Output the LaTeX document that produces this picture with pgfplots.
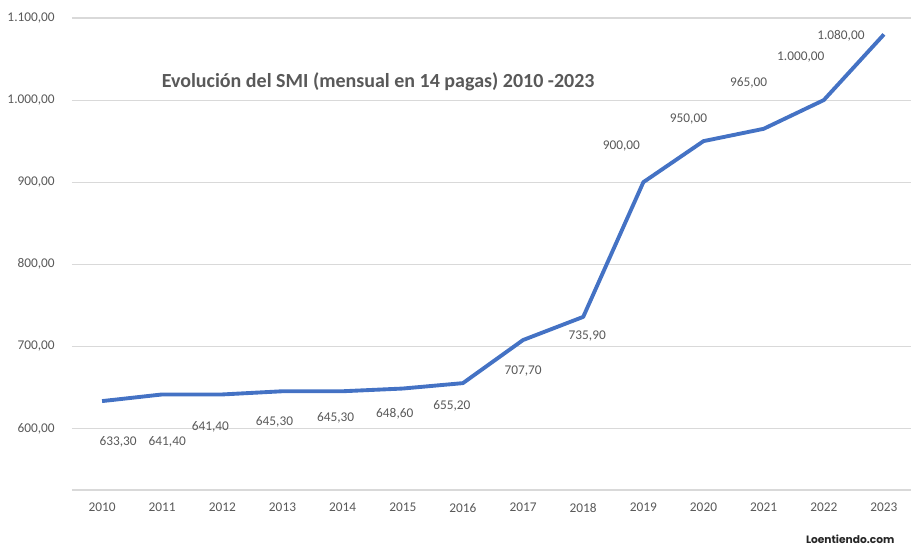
\documentclass[border=0pt]{standalone}
\usepackage{fontspec}
\setmainfont{Carlito}
\newfontfamily\logofont{Poppins}
\usepackage{pgfplots}
\pgfplotsset{compat=1.18}
\definecolor{linea}{HTML}{4472C4}
\definecolor{rejilla}{HTML}{D9D9D9}
\definecolor{texto}{HTML}{595959}

% anio (indice), SMI, desplazamiento de la etiqueta en px (dy hacia arriba)
\pgfplotstableread{
x y dx dy
0 633.3 16 -41
1 641.4 5 -47
2 641.4 -12 -32
3 645.3 -8 -31
4 645.3 -7 -27
5 648.6 -8 -25
6 655.2 -11 -23
7 707.7 0 -31
8 735.9 4 -19
9 900.0 -22 36
10 950.0 -15 22
11 965.0 -15 46
12 1000.0 -23 43
13 1080.0 -43 -1
}\smi

\begin{document}
\begin{tikzpicture}
\path[use as bounding box] (-54pt,-42pt) rectangle (629.25pt,367.5pt);
\begin{axis}[
    scale only axis,
    width=631.5pt,
    height=354pt,
    xmin=-0.5, xmax=13.5,
    ymin=525, ymax=1100,
    xtick={0,...,13},
    xticklabels={2010,2011,2012,2013,2014,2015,2016,2017,2018,2019,2020,2021,2022,2023},
    ytick={600,700,...,1100},
    axis x line*=bottom,
    axis y line*=left,
    x axis line style={draw=rejilla, line width=0.8pt, -},
    y axis line style={draw=none},
    major tick length=0pt,
    ymajorgrids,
    grid style={draw=rejilla, line width=0.8pt},
    /pgf/number format/.cd, fixed, fixed zerofill, precision=2, use comma, 1000 sep={.}, assume math mode=true,
    /pgfplots/.cd,
    ticklabel style={font=\fontsize{10}{12}\selectfont, text=texto, inner sep=0pt},
    yticklabel style={anchor=east, xshift=-12.75pt},
    xticklabel style={anchor=north, yshift=-9.6pt},
    clip=false,
]
\addplot[color=linea, line width=2.9pt, line join=round, no markers,
    nodes near coords,
    visualization depends on={\thisrow{dx} \as \dx},
    visualization depends on={\thisrow{dy} \as \dy},
    every node near coord/.style={anchor=center, inner sep=0pt,
        font=\fontsize{10}{12}\selectfont, text=texto,
        xshift=0.75*\dx pt, yshift=0.75*\dy pt},
] table[x=x, y=y] {\smi};

\node[font=\fontsize{15}{18}\selectfont\bfseries, text=texto, anchor=center]
    at (axis cs:4.59,1022) {Evolución del SMI (mensual en 14 pagas) 2010 -2023};
\node[font=\logofont\bfseries\fontsize{8}{10}\selectfont, text=black!85, anchor=center]
    at (axis cs:12.44,465) {Loentiendo.com};
\end{axis}
\end{tikzpicture}
\end{document}
